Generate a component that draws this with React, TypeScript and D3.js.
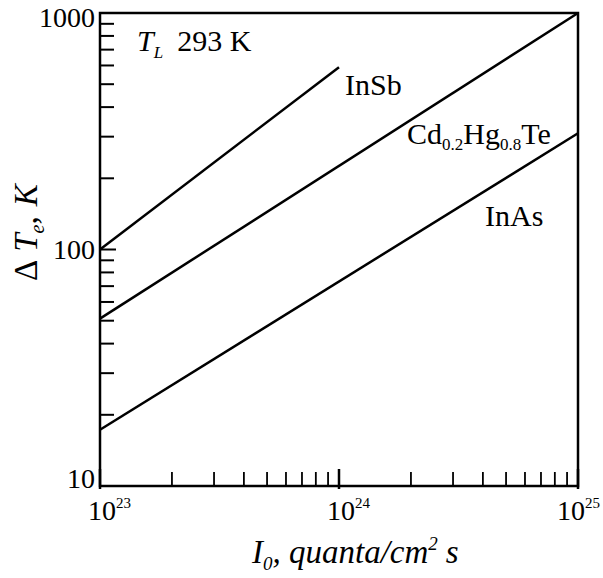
import React, { useEffect, useRef } from "react";
import * as d3 from "d3";

// data
const xDomain = [1e23, 1e25];
const yDomain = [10, 1000];
const xTickExponents = [23, 24, 25];
const yTickLabels = [10, 100, 1000];

const insbX = [1e23, 1e24];
const insbY = [100, 590];
const cdhgteX = [1e23, 1e25];
const cdhgteY = [51, 1000];
const inasX = [1e23, 1e25];
const inasY = [17.3, 310];

const W = 603, H = 578;
const margin = { top: 13, right: 25, bottom: 92, left: 100 };
const FONT = "'Liberation Serif', 'Times New Roman', serif";

export default function App() {
  const ref = useRef<SVGSVGElement>(null);

  useEffect(() => {
    const svg = d3.select(ref.current);
    svg.selectAll("*").remove();

    const x = d3.scaleLog().domain(xDomain).range([margin.left, W - margin.right]);
    const y = d3.scaleLog().domain(yDomain).range([H - margin.bottom, margin.top]);

    const x0 = margin.left, x1 = W - margin.right;
    const y0 = H - margin.bottom, y1 = margin.top;
    const isMajor = (d: number) => xTickExponents.some(e => Math.abs(Math.log10(d) - e) < 1e-6);

    // minor + major ticks pointing inwards
    svg.append("g")
      .selectAll("line")
      .data(x.ticks())
      .join("line")
      .attr("x1", d => x(d))
      .attr("x2", d => x(d))
      .attr("y1", d => isMajor(d) ? y0 + 3 : y0)
      .attr("y2", d => isMajor(d) ? y0 - 17 : y0 - 14)
      .attr("stroke", "#000")
      .attr("stroke-width", d => isMajor(d) ? 2.5 : 1.8);

    svg.append("g")
      .selectAll("line")
      .data(y.ticks())
      .join("line")
      .attr("x1", x0)
      .attr("x2", d => yTickLabels.includes(d) ? x0 + 16 : x0 + 14)
      .attr("y1", d => y(d))
      .attr("y2", d => y(d))
      .attr("stroke", "#000")
      .attr("stroke-width", 2);

    // frame
    svg.append("rect")
      .attr("x", x0).attr("y", y1)
      .attr("width", x1 - x0).attr("height", y0 - y1)
      .attr("fill", "none").attr("stroke", "#000").attr("stroke-width", 2.5);

    // tick labels (top one pushed down, bottom one pushed up, like the original)
    svg.append("g")
      .selectAll("text")
      .data(yTickLabels)
      .join("text")
      .attr("x", x0 - 5)
      .attr("y", (d, i) => y(d) + (i === 0 ? 2 : i === yTickLabels.length - 1 ? 14 : 9))
      .attr("text-anchor", "end")
      .attr("font-family", FONT)
      .attr("font-size", 28)
      .text(d => d);

    const xl = svg.append("g")
      .selectAll("text")
      .data(xTickExponents)
      .join("text")
      .attr("x", (d, i) => x(Math.pow(10, d)) - (i === xTickExponents.length - 1 ? 21 : 12))
      .attr("y", y0 + 34)
      .attr("font-family", FONT)
      .attr("font-size", 28);
    xl.append("tspan").text("10");
    xl.append("tspan").attr("dy", -12).attr("font-size", 15).text(d => d);

    // lines
    const line = d3.line<[number, number]>().x(d => x(d[0])).y(d => y(d[1]));
    const series: [number[], number[]][] = [[insbX, insbY], [cdhgteX, cdhgteY], [inasX, inasY]];
    series.forEach(([xs, ys]) => {
      svg.append("path")
        .attr("d", line(xs.map((v, i) => [v, ys[i]] as [number, number])))
        .attr("fill", "none")
        .attr("stroke", "#000")
        .attr("stroke-width", 2.5);
    });

    // series labels
    svg.append("text").attr("x", 345).attr("y", 95)
      .attr("font-family", FONT).attr("font-size", 30).text("InSb");

    const cd = svg.append("text").attr("x", 407).attr("y", 144)
      .attr("font-family", FONT).attr("font-size", 30);
    cd.append("tspan").text("Cd");
    cd.append("tspan").attr("dy", 6).attr("font-size", 17).text("0.2");
    cd.append("tspan").attr("dy", -6).text("Hg");
    cd.append("tspan").attr("dy", 6).attr("font-size", 17).text("0.8");
    cd.append("tspan").attr("dy", -6).text("Te");

    svg.append("text").attr("x", 485).attr("y", 226)
      .attr("font-family", FONT).attr("font-size", 30).text("InAs");

    // T_L annotation
    const tl = svg.append("text").attr("x", 137).attr("y", 51)
      .attr("font-family", FONT).attr("font-size", 30);
    tl.append("tspan").attr("font-style", "italic").text("T");
    tl.append("tspan").attr("font-style", "italic").attr("font-size", 17).attr("dy", 7).text("L");
    tl.append("tspan").attr("dy", -7).attr("dx", 14).text("293 K");

    // axis titles
    const xt = svg.append("text").attr("x", 252).attr("y", 563)
      .attr("font-family", FONT).attr("font-size", 33).attr("font-style", "italic");
    xt.append("tspan").text("I");
    xt.append("tspan").attr("font-size", 19).attr("dy", 7).text("0");
    xt.append("tspan").attr("dy", -7).text(", quanta/cm");
    xt.append("tspan").attr("font-size", 19).attr("dy", -13).text("2");
    xt.append("tspan").attr("dy", 13).attr("dx", 8).text("s");

    const yt = svg.append("text")
      .attr("transform", `translate(37,281) rotate(-90)`)
      .attr("font-family", FONT).attr("font-size", 33);
    yt.append("tspan").text("\u0394");
    yt.append("tspan").attr("dx", 8).attr("font-style", "italic").text("T");
    yt.append("tspan").attr("font-style", "italic").attr("font-size", 20).attr("dy", 7).text("e");
    yt.append("tspan").attr("dy", -7).text(",");
    yt.append("tspan").attr("dx", 10).attr("font-style", "italic").text("K");
  }, []);

  return (
    <svg
      ref={ref}
      width={W}
      height={H}
      style={{ position: "absolute", left: 0, top: 0, background: "#fff" }}
    />
  );
}
